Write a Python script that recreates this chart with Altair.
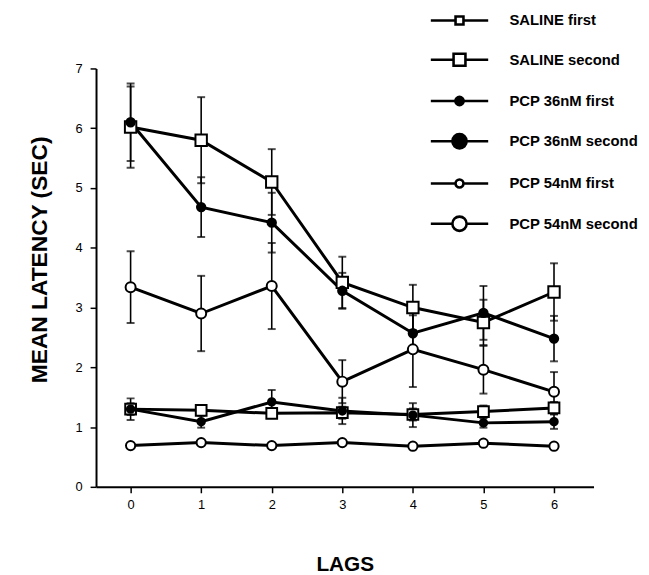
import altair as alt
import pandas as pd

lags = [0, 1, 2, 3, 4, 5, 6]
series_names = ["SALINE first", "SALINE second", "PCP 36nM first",
                "PCP 36nM second", "PCP 54nM first", "PCP 54nM second"]

saline_first = [1.30, 1.28, 1.23, 1.24, 1.21, 1.26, 1.32]
saline_first_err = [0.10, 0.08, 0.08, 0.10, 0.10, 0.10, 0.10]
saline_second = [6.02, 5.80, 5.10, 3.42, 3.00, 2.75, 3.26]
saline_second_err = [0.68, 0.72, 0.55, 0.43, 0.38, 0.38, 0.48]
pcp36_first = [1.30, 1.09, 1.42, 1.27, 1.20, 1.07, 1.09]
pcp36_first_err = [0.18, 0.10, 0.20, 0.22, 0.20, 0.08, 0.12]
pcp36_second = [6.10, 4.68, 4.42, 3.28, 2.57, 2.91, 2.48]
pcp36_second_err = [0.65, 0.50, 0.50, 0.30, 0.30, 0.45, 0.38]
pcp54_first = [0.69, 0.74, 0.69, 0.74, 0.68, 0.73, 0.68]
pcp54_first_err = [0, 0, 0, 0, 0, 0, 0]
pcp54_second = [3.34, 2.90, 3.36, 1.76, 2.30, 1.96, 1.59]
pcp54_second_err = [0.60, 0.63, 0.72, 0.36, 0.63, 0.40, 0.33]

values = [saline_first, saline_second, pcp36_first, pcp36_second, pcp54_first, pcp54_second]
errors = [saline_first_err, saline_second_err, pcp36_first_err, pcp36_second_err,
          pcp54_first_err, pcp54_second_err]

# marker style per series (shape, area, fill)
marker_shape = {"SALINE first": "square", "SALINE second": "square",
                "PCP 36nM first": "circle", "PCP 36nM second": "circle",
                "PCP 54nM first": "circle", "PCP 54nM second": "circle"}
marker_size = {"SALINE first": 49, "SALINE second": 144,
               "PCP 36nM first": 57, "PCP 36nM second": 133,
               "PCP 54nM first": 40, "PCP 54nM second": 113}
marker_fill = {"SALINE first": "white", "SALINE second": "white",
               "PCP 36nM first": "black", "PCP 36nM second": "black",
               "PCP 54nM first": "white", "PCP 54nM second": "white"}

rows = []
for name, vals, errs in zip(series_names, values, errors):
    for lag, v, e in zip(lags, vals, errs):
        rows.append({"lag": lag, "series": name, "value": v, "err": e,
                     "lo": v - e, "hi": v + e})
df = pd.DataFrame(rows)

FONT = "Liberation Sans"

x_enc = alt.X("lag:Q",
              scale=alt.Scale(domain=[-0.49, 6.56], nice=False, zero=False),
              axis=alt.Axis(values=lags, format="d", title="LAGS",
                            titleFontSize=21, titleFontWeight="bold",
                            titlePadding=43, labelPadding=6))
y_axis = alt.Axis(values=[i * 0.5 for i in range(15)], format="d",
                  labelExpr="datum.value % 1 == 0 ? datum.label : ''",
                  title="MEAN LATENCY (SEC)", titleFontSize=23,
                  titleFontWeight="bold", titlePadding=24, titleY=193,
                  labelPadding=8)
y_scale = alt.Scale(domain=[0, 7], nice=False, zero=True)

base = alt.Chart(df)

err_df = base.transform_filter("datum.err > 0")
err_rules = err_df.mark_rule(color="black", strokeWidth=1.6).encode(
    x=x_enc, y=alt.Y("lo:Q", scale=y_scale, axis=y_axis), y2="hi:Q",
    detail="series:N")
caps = err_df.transform_fold(["lo", "hi"], as_=["end", "endv"]).mark_tick(
    color="black", orient="horizontal", size=8, thickness=2).encode(
    x=x_enc, y=alt.Y("endv:Q", scale=y_scale, axis=y_axis), detail="series:N")

shape_paths = {
    "SALINE first": "M-2.9,0H-0.4M0.4,0H2.9M-0.4,-0.4H0.4V0.4H-0.4Z",
    "SALINE second": "M-2.9,0H-0.6M0.6,0H2.9M-0.6,-0.6H0.6V0.6H-0.6Z",
    "PCP 36nM first": "M-2.9,0H2.9M-0.42,0A0.42,0.42,0,1,1,0.42,0A0.42,0.42,0,1,1,-0.42,0Z",
    "PCP 36nM second": "M-2.9,0H2.9M-0.72,0A0.72,0.72,0,1,1,0.72,0A0.72,0.72,0,1,1,-0.72,0Z",
    "PCP 54nM first": "M-2.9,0H-0.4M0.4,0H2.9M-0.4,0A0.4,0.4,0,1,1,0.4,0A0.4,0.4,0,1,1,-0.4,0Z",
    "PCP 54nM second": "M-2.9,0H-0.72M0.72,0H2.9M-0.72,0A0.72,0.72,0,1,1,0.72,0A0.72,0.72,0,1,1,-0.72,0Z",
}
shape_expr = ""
for name in series_names[:-1]:
    shape_expr += f"datum.value == '{name}' ? '{shape_paths[name]}' : "
shape_expr += f"'{shape_paths[series_names[-1]]}'"
fill_expr = "indexof(['PCP 36nM first', 'PCP 36nM second'], datum.value) >= 0 ? 'black' : 'white'"

legend = alt.Legend(
    title=None, orient="none", legendX=356, legendY=-60, padding=0,
    symbolSize=400, symbolStrokeWidth=2.6, symbolStrokeColor="black",
    symbolType={"expr": shape_expr}, symbolFillColor={"expr": fill_expr},
    symbolOpacity=1,
    labelFont=FONT, labelFontSize=15, labelFontWeight="bold", labelColor="black",
    labelOffset=39, rowPadding=18.7, labelLimit=400)

lines = base.mark_line(strokeWidth=3).encode(
    x=x_enc, y=alt.Y("value:Q", scale=y_scale, axis=y_axis),
    color=alt.Color("series:N", scale=alt.Scale(domain=series_names, range=["black"] * 6),
                    legend=legend))

# point scales use a differently ordered domain so that they are not merged
# into the line legend
pt_domain = sorted(series_names)
points = base.transform_calculate(grp="datum.series").mark_point(
    opacity=1, stroke="black", strokeWidth=2).encode(
    x=x_enc, y=alt.Y("value:Q", scale=y_scale, axis=y_axis),
    shape=alt.Shape("grp:N", scale=alt.Scale(domain=pt_domain,
                    range=[marker_shape[n] for n in pt_domain]), legend=None),
    size=alt.Size("grp:N", scale=alt.Scale(domain=pt_domain,
                  range=[marker_size[n] for n in pt_domain]), legend=None),
    fill=alt.Fill("grp:N", scale=alt.Scale(domain=pt_domain,
                  range=[marker_fill[n] for n in pt_domain]), legend=None))

chart = alt.layer(err_rules, caps, lines, points).properties(
    width=503, height=423,
    autosize=alt.AutoSizeParams(type="none"),
    padding={"left": 89, "top": 58, "right": 48, "bottom": 85},
    background="white",
).configure_view(stroke=None).configure_axis(
    domainColor="black", domainWidth=2, tickColor="black", tickWidth=1.5,
    tickSize=6, labelFont=FONT, labelFontSize=13, labelColor="black",
    titleFont=FONT, titleColor="black", grid=False)

chart.save("out.html", embed_options={"renderer": "svg", "actions": False})
